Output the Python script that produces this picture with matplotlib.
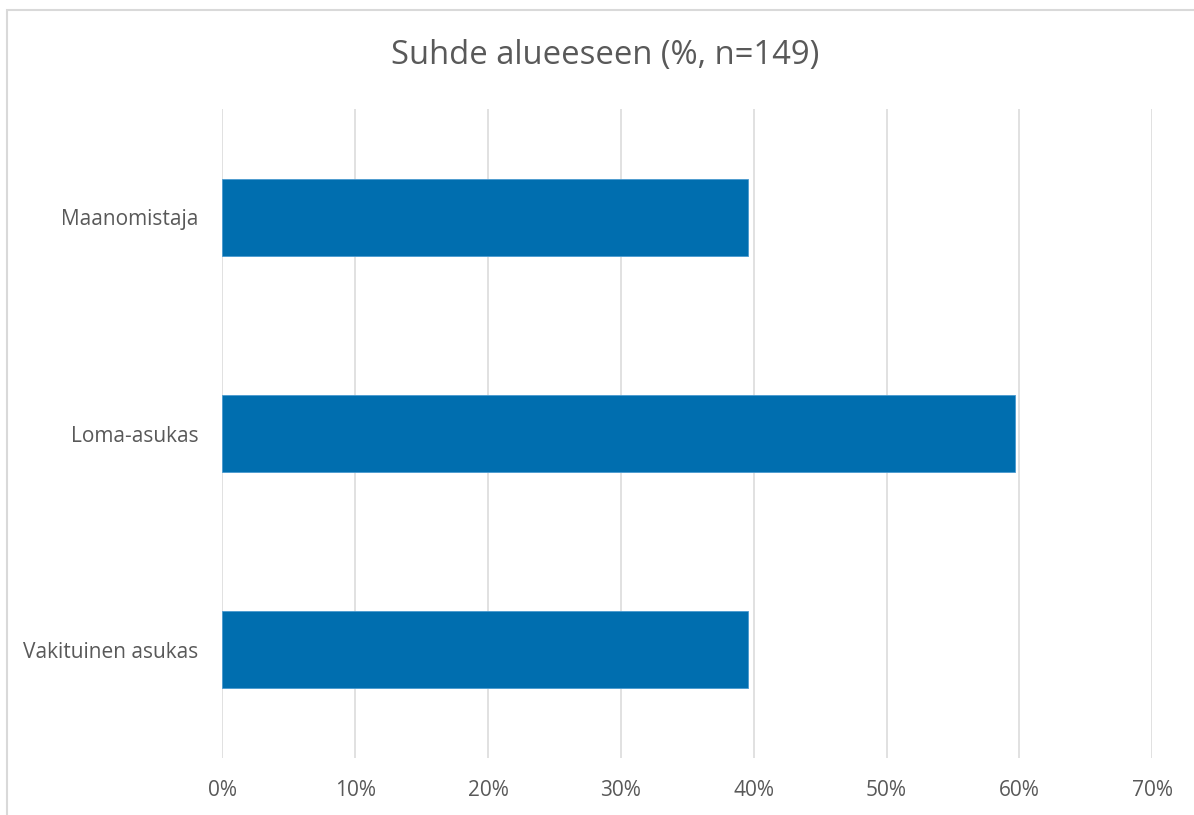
import matplotlib
matplotlib.use("Agg")
import matplotlib.pyplot as plt
from matplotlib.patches import Rectangle
from matplotlib.ticker import PercentFormatter

# Data (n=149)
categories = ["Vakituinen asukas", "Loma-asukas", "Maanomistaja"]
shares = [39.6, 59.7, 39.6]
x_ticks = [0, 10, 20, 30, 40, 50, 60, 70]

plt.rcParams['font.family'] = ['Open Sans', 'DejaVu Sans']

fig = plt.figure(figsize=(11.94, 8.15), dpi=100)
ax = fig.add_axes([0.1862, 0.0699, 0.7789, 0.7963])

# Bars
ax.barh(categories, shares, height=0.356, color="#006EAF",
        edgecolor="#4A9AD0", linewidth=0.6, zorder=3)

ax.set_xlim(0, 70)
ax.set_ylim(-0.5, len(categories) - 0.5)
ax.set_xticks(x_ticks)
ax.xaxis.set_major_formatter(PercentFormatter(decimals=0))

# Excel-like styling
ax.grid(axis="x", color="#D9D9D9", linewidth=1.1, zorder=0)
ax.grid(axis="y", visible=False)
for s in ax.spines.values():
    s.set_visible(False)
ax.tick_params(axis="both", length=0, labelsize=15, colors="#595959")
ax.tick_params(axis="x", pad=16)
ax.tick_params(axis="y", pad=17)

fig.text(0.507, 0.932, "Suhde alueeseen (%, n=149)", ha="center", va="center",
         fontsize=23.6, color="#595959")

# Chart border (cut off at right and bottom in the original)
border = Rectangle((7 / 1194, -0.05), 1.1, 805 / 815 + 0.05, transform=fig.transFigure,
                   fill=False, edgecolor="#D9D9D9", linewidth=1.5, clip_on=False)
fig.patches.append(border)

fig.savefig("out.png", dpi=100)
